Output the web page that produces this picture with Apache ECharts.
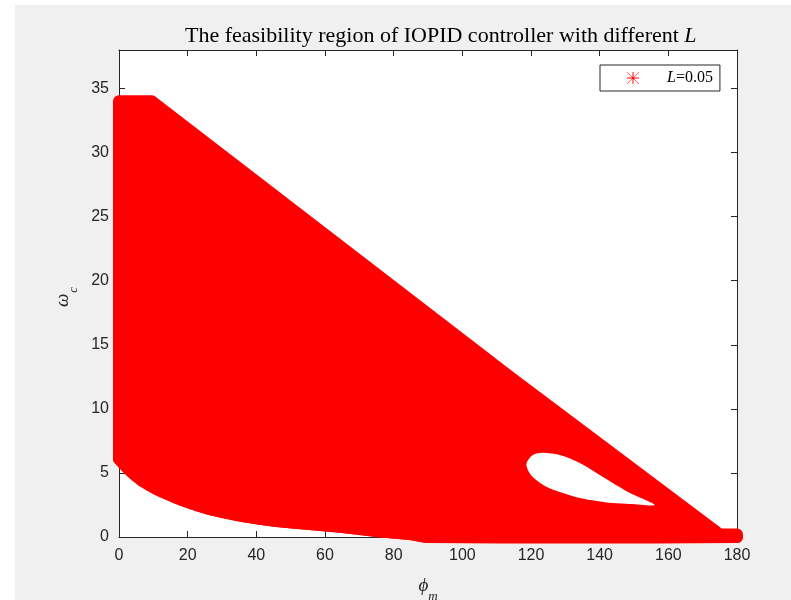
<!DOCTYPE html>
<html>
<head>
<meta charset="utf-8">
<script src="https://cdn.jsdelivr.net/npm/echarts@6/dist/echarts.min.js"></script>
<style>
html,body{margin:0;padding:0;background:#ffffff;width:791px;height:600px;overflow:hidden;}
#chart{position:absolute;left:15px;top:5px;width:776px;height:595px;}
</style>
</head>
<body>
<div id="chart"></div>
<script>
// ---- data ----
const titleText = 'The feasibility region of IOPID controller with different ';
const titleVar = 'L';
const seriesName = 'L=0.05';
const xTickValues = [0, 20, 40, 60, 80, 100, 120, 140, 160, 180];
const yTickValues = [0, 5, 10, 15, 20, 25, 30, 35];
const xRange = [0, 180];
const yRange = [0, 38];
// upper edge of the feasible region (phi_m, omega_c), left to right
const upperBoundary = [[0, 34.0], [9.5, 34.0], [113.8, 12.5], [175, 0.2], [180, 0.2]];
// lower edge of the feasible region, left to right
const lowerBoundary = [[0, 6.1], [6.9, 4.37], [16.8, 3.05], [26.4, 2.18], [36.0, 1.64], [45.9, 1.25],
  [55.5, 1.01], [65.2, 0.78], [75.0, 0.47], [84.7, 0.23], [90.5, 0], [180, 0]];
// infeasible hole inside the region
const holeBoundary = [[118.7, 5.75], [120.5, 6.40], [123.4, 6.58], [128.4, 6.40], [134.2, 5.77], [139.1, 4.99],
  [143.8, 4.21], [148.8, 3.43], [156.0, 2.50], [148.8, 2.57], [143.8, 2.65], [139.1, 2.81], [134.2, 3.04],
  [129.3, 3.43], [124.6, 3.90], [120.5, 4.68], [119.1, 5.23]];

const chart = echarts.init(document.getElementById('chart'), null, {renderer: 'canvas'});
const axisColor = '#262626';
const serif = 'Liberation Serif, Times New Roman, serif';
const tickFont = {fontFamily: 'Liberation Sans, Arial, sans-serif', fontSize: 16, color: axisColor};
const asterisk = 'path://M46,0L54,0L54,100L46,100Z M0,46L100,46L100,54L0,54Z M3,0L100,97L97,100L0,3Z M97,0L100,3L3,100L0,97Z';

function baseX(pos, show) {
  return {
    type: 'value', position: pos, min: xRange[0], max: xRange[1], interval: 20,
    axisLine: {show: true, onZero: false, lineStyle: {color: axisColor, width: 1}},
    axisTick: {show: true, inside: true, length: 6, lineStyle: {color: axisColor}},
    axisLabel: show ? Object.assign({margin: 11, formatter: v => xTickValues.includes(v) ? String(v) : ''}, tickFont) : {show: false},
    splitLine: {show: false}
  };
}
function baseY(pos, show) {
  return {
    type: 'value', position: pos, min: yRange[0], max: yRange[1], interval: 5,
    axisLine: {show: true, onZero: false, lineStyle: {color: axisColor, width: 1}},
    axisTick: {show: true, inside: true, length: 6, lineStyle: {color: axisColor}},
    axisLabel: show ? Object.assign({margin: 10, formatter: v => yTickValues.includes(v) ? String(v) : ''}, tickFont) : {show: false},
    splitLine: {show: false}
  };
}

const xMain = baseX('bottom', true);
xMain.name = '{p|\u03d5}{m|m}';
xMain.nameLocation = 'middle';
xMain.nameGap = 31;
xMain.nameTextStyle = {
  rich: {
    p: {fontFamily: serif, fontStyle: 'italic', fontSize: 19, color: axisColor},
    m: {fontFamily: serif, fontStyle: 'italic', fontSize: 13, color: axisColor, padding: [22, 0, 0, 0]}
  }
};
const yMain = baseY('left', true);
yMain.name = '{w|\u03c9}{c|c}';
yMain.nameLocation = 'middle';
yMain.nameRotate = 90;
yMain.nameGap = 37;
yMain.nameTextStyle = {
  rich: {
    w: {fontFamily: serif, fontStyle: 'italic', fontSize: 19, color: axisColor},
    c: {fontFamily: serif, fontStyle: 'italic', fontSize: 13, color: axisColor, padding: [22, 7, 0, 1]}
  }
};

const option = {
  backgroundColor: '#f0f0f0',
  animation: false,
  title: {
    text: titleText + '{i|' + titleVar + '}',
    left: 170, top: 20, padding: 0,
    textStyle: {
      fontFamily: serif, fontSize: 22, fontWeight: 'normal', color: '#000',
      rich: {i: {fontFamily: serif, fontSize: 22, fontStyle: 'italic', color: '#000'}}
    }
  },
  grid: {left: 104, top: 45, width: 618, height: 487, show: true, backgroundColor: '#ffffff', borderWidth: 0, containLabel: false, outerBoundsMode: 'none'},
  legend: {
    left: 585, top: 60, orient: 'horizontal',
    padding: [5, 7, 5, 27], itemWidth: 12, itemHeight: 12,
    backgroundColor: '#ffffff', borderColor: axisColor, borderWidth: 1, borderRadius: 0,
    data: [{name: seriesName, icon: asterisk}],
    formatter: name => '{i|' + name.slice(0, 1) + '}{n|' + name.slice(1) + '}',
    textStyle: {
      rich: {
        i: {fontFamily: serif, fontStyle: 'italic', fontSize: 16, color: '#000', padding: [0, 0, 0, 23]},
        n: {fontFamily: serif, fontSize: 16, color: '#000'}
      }
    }
  },
  xAxis: [xMain, baseX('top', false)],
  yAxis: [yMain, baseY('right', false)],
  series: [{
    name: seriesName,
    type: 'custom',
    xAxisIndex: 0, yAxisIndex: 0,
    silent: true,
    clip: false,
    itemStyle: {color: '#ff0000'},
    data: [[upperBoundary[0][0], upperBoundary[0][1]]],
    renderItem: function (params, api) {
      const outer = upperBoundary.concat(lowerBoundary.slice().reverse()).map(p => api.coord(p));
      const lower = lowerBoundary.map(p => api.coord(p));
      const hole = holeBoundary.map(p => api.coord(p));
      return {
        type: 'group',
        children: [
          {type: 'polygon', shape: {points: outer}, style: {fill: '#ff0000', stroke: '#ff0000', lineWidth: 12, lineJoin: 'round'}},
          {type: 'polyline', shape: {points: lower, smooth: 0.45}, style: {fill: null, stroke: '#ff0000', lineWidth: 12, lineJoin: 'round', lineCap: 'round'}},
          {type: 'polygon', shape: {points: hole, smooth: 0.3}, style: {fill: '#ffffff'}}
        ]
      };
    }
  }]
};
chart.setOption(option);
</script>
</body>
</html>
